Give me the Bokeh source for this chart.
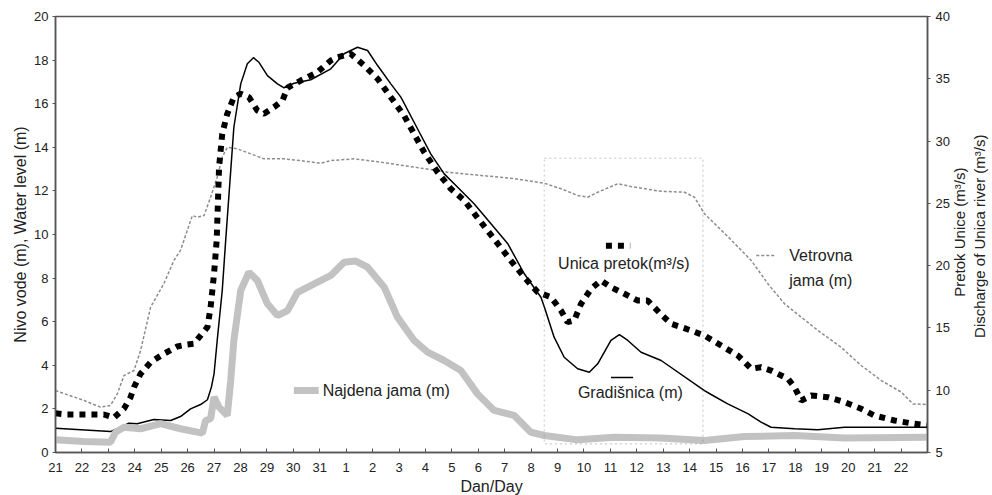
import math
from bokeh.plotting import figure
from bokeh.models import Range1d, LinearAxis, FixedTicker, BoxAnnotation
from bokeh.embed import file_html
from bokeh.resources import INLINE
from bokeh.core.properties import value

# x axis: days (21st .. 31st, then 1st .. 22nd of next month); positions are days since the 21st
day_labels = list(range(21, 32)) + list(range(1, 23))
tick_pos = list(range(len(day_labels)))

# Gradišnica (m) - water level, left axis
grad_t = [0.00, 2.08, 2.78, 3.09, 3.72, 4.36, 4.73, 5.11, 5.49, 5.75, 5.90, 6.00, 6.12, 6.31, 6.44,
          6.75, 7.01, 7.26, 7.49, 7.70, 8.02, 8.40, 8.65, 9.03, 9.66, 10.42, 10.92, 11.43, 11.81,
          12.19, 12.69, 13.07, 13.70, 14.20, 14.71, 15.22, 15.84, 16.48, 17.11, 17.74, 18.37, 18.50,
          18.87, 19.25, 19.76, 20.20, 20.52, 21.02, 21.34, 21.66, 22.16, 22.92, 24.56, 24.81, 25.44,
          26.20, 26.70, 27.08, 27.97, 28.85, 29.86, 31.12, 33.00]
grad_y = [1.11, 0.96, 1.34, 1.32, 1.51, 1.47, 1.65, 2.00, 2.20, 2.42, 3.00, 3.61, 5.14, 7.43, 9.72,
          14.92, 16.91, 17.83, 18.11, 17.90, 17.29, 16.91, 16.73, 16.94, 17.10, 17.60, 18.29, 18.59, 18.44,
          17.75, 16.91, 16.30, 14.85, 13.70, 12.78, 12.17, 11.41, 10.49, 9.59, 8.20, 7.12, 6.67,
          5.29, 4.37, 3.84, 3.68, 4.07, 5.14, 5.41, 5.14, 4.60, 4.22, 2.84, 2.66, 2.23,
          1.78, 1.39, 1.16, 1.09, 1.04, 1.16, 1.16, 1.16]

# Unica pretok (m3/s) - discharge, right axis
unica_t = [0.00, 0.44, 1.07, 1.83, 2.21, 2.59, 2.84, 2.97, 3.22, 3.60, 4.10, 4.61, 4.99, 5.24, 5.49,
           5.75, 5.87, 6.00, 6.10, 6.19, 6.31, 6.50, 6.75, 7.01, 7.32, 7.64, 7.89, 8.27, 8.59, 8.78,
           9.28, 9.91, 10.42, 10.67, 11.17, 11.68, 12.19, 12.69, 13.19, 13.57, 13.95, 14.46, 14.96,
           15.47, 16.10, 16.73, 17.23, 17.74, 18.25, 18.75, 19.13, 19.38, 19.63, 19.89, 20.27, 20.64,
           21.02, 21.53, 22.03, 22.41, 22.92, 23.30, 23.80, 24.56, 25.19, 25.82, 26.33, 26.70, 27.08,
           27.72, 27.97, 28.22, 28.60, 29.23, 29.86, 30.49, 30.99, 31.75, 32.51, 33.00]
unica_q = [8.15, 8.05, 8.05, 8.05, 7.79, 8.51, 9.44, 10.24, 11.32, 12.25, 12.92, 13.51, 13.67, 13.73, 14.39,
           15.06, 16.66, 19.35, 22.02, 27.90, 30.58, 32.19, 33.52, 33.80, 33.52, 32.45, 32.19, 32.72, 33.26, 34.28,
           34.86, 35.53, 36.47, 36.73, 37.01, 36.07, 35.00, 33.52, 32.05, 30.58, 29.11, 27.50, 26.17,
           25.23, 23.49, 21.78, 20.41, 19.07, 17.87, 17.47, 16.40, 15.46, 15.60, 16.94, 18.14, 18.81,
           18.27, 17.74, 17.20, 17.20, 16.08, 15.33, 14.98, 14.39, 13.59, 12.79, 11.72, 11.85, 11.58,
           10.92, 10.24, 9.17, 9.58, 9.44, 9.04, 8.51, 7.97, 7.57, 7.30, 7.17]

# Vetrovna jama (m) - left axis
vetr_t = [0.00, 1.07, 1.70, 2.08, 2.34, 2.59, 2.97, 3.22, 3.60, 4.10, 4.48, 4.73, 5.18, 5.37, 5.62,
          5.87, 6.12, 6.31, 6.50, 6.88, 7.39, 7.89, 8.65, 9.28, 10.04, 10.42, 11.30, 12.31, 13.57,
          14.84, 16.10, 17.36, 18.50, 19.13, 19.76, 20.14, 20.52, 21.28, 21.78, 22.92, 23.80, 24.18,
          24.56, 25.44, 26.33, 26.96, 27.59, 28.22, 28.85, 29.73, 30.49, 31.25, 32.01, 32.45, 33.00]
vetr_y = [2.84, 2.39, 2.08, 2.16, 2.69, 3.53, 3.76, 4.68, 6.67, 7.74, 8.81, 9.27, 10.87, 10.79, 10.87,
          11.71, 12.63, 13.55, 14.00, 13.93, 13.70, 13.47, 13.47, 13.39, 13.27, 13.39, 13.47, 13.32, 13.09,
          12.86, 12.71, 12.56, 12.35, 12.10, 11.79, 11.71, 11.94, 12.33, 12.20, 11.98, 11.94, 11.71,
          10.95, 9.91, 8.81, 7.74, 6.82, 6.21, 5.60, 4.83, 3.99, 3.30, 2.77, 2.23, 2.20]

# Najdena jama (m) - left axis
najd_t = [0.00, 1.07, 2.08, 2.27, 2.59, 3.22, 3.98, 4.73, 5.56, 5.68, 5.87, 6.00, 6.19, 6.50, 6.63,
          6.75, 7.01, 7.32, 7.64, 8.02, 8.40, 8.78, 9.16, 9.66, 10.42, 10.92, 11.36, 11.81, 12.44,
          12.94, 13.57, 14.08, 14.71, 15.34, 15.97, 16.60, 17.36, 17.99, 18.50, 19.76, 21.15, 22.92,
          24.56, 26.07, 27.97, 29.86, 33.00]
najd_y = [0.58, 0.50, 0.47, 0.93, 1.16, 1.09, 1.32, 1.09, 0.89, 1.47, 1.55, 2.54, 2.08, 1.70, 3.30,
          5.14, 7.43, 8.27, 7.89, 6.82, 6.28, 6.51, 7.35, 7.66, 8.12, 8.73, 8.78, 8.50, 7.58,
          6.21, 5.14, 4.60, 4.22, 3.76, 2.69, 1.93, 1.70, 0.93, 0.78, 0.58, 0.70, 0.67,
          0.55, 0.73, 0.78, 0.67, 0.70]

# right-side axis titles and the right-axis value at which each title starts
right_titles = ["Pretok Unice (m³/s)", "Discharge of Unica river (m³/s)"]
right_title_start = [17.5, 14.2]

FONT = "Liberation Sans"
AX = "#555555"
TXT = "#222222"

p = figure(frame_width=872, frame_height=436, output_backend="svg", toolbar_location=None,
           x_range=Range1d(0, 33), y_range=Range1d(0, 20),
           min_border_left=55, min_border_right=5, min_border_top=16, min_border_bottom=43)
p.extra_y_ranges = {"q": Range1d(5, 40)}
p.grid.visible = False
p.outline_line_color = AX
p.outline_line_width = 1.5
p.background_fill_color = "white"
p.border_fill_color = "white"

def style_axis(ax, tick_in=0, tick_out=4):
    ax.axis_line_color = AX
    ax.axis_line_width = 1.5
    ax.major_tick_line_color = AX
    ax.major_tick_in = tick_in
    ax.major_tick_out = tick_out
    ax.minor_tick_line_color = None
    ax.major_label_text_font = FONT
    ax.major_label_text_font_size = "13px"
    ax.major_label_text_color = TXT
    ax.axis_label_text_font = FONT
    ax.axis_label_text_font_size = "16px"
    ax.axis_label_text_font_style = "normal"
    ax.axis_label_text_color = TXT

xa = p.xaxis[0]
xa.ticker = FixedTicker(ticks=tick_pos)
xa.major_label_overrides = {i: str(d) for i, d in zip(tick_pos, day_labels)}
xa.axis_label = "Dan/Day"
style_axis(xa, tick_in=4, tick_out=0)
xa.major_label_standoff = 10
xa.axis_label_standoff = 3

ya = p.yaxis[0]
ya.ticker = FixedTicker(ticks=list(range(0, 21, 2)))
ya.axis_label = "Nivo vode (m), Water level (m)"
style_axis(ya, tick_in=0, tick_out=3)
ya.major_label_standoff = 4
ya.axis_label_standoff = 2

ra = LinearAxis(y_range_name="q", ticker=FixedTicker(ticks=list(range(5, 41, 5))))
style_axis(ra, tick_in=0, tick_out=3)
ra.major_label_standoff = 5
p.add_layout(ra, "right")

# titles on the right, drawn as single rotated tick labels so that they read bottom-to-top
for txt, start, standoff in zip(right_titles, right_title_start, [7, 0]):
    t_ax = LinearAxis(y_range_name="q", ticker=FixedTicker(ticks=[start]),
                      major_label_overrides={start: txt})
    style_axis(t_ax, tick_in=0, tick_out=0)
    t_ax.axis_line_color = None
    t_ax.major_tick_line_color = None
    t_ax.major_label_text_font_size = "15px"
    t_ax.major_label_orientation = math.pi / 2
    t_ax.major_label_standoff = standoff
    p.add_layout(t_ax, "right")

# dotted box
p.add_layout(BoxAnnotation(left=18.5, right=24.5, bottom=0.4, top=13.5, fill_alpha=0,
                           line_color="#777777", line_dash="2 3", line_width=1.5))

p.line(vetr_t, vetr_y, line_color="#8c8c8c", line_width=1.5, line_dash="3 2")
p.line(grad_t, grad_y, line_color="black", line_width=1.5)
p.line(unica_t, unica_q, y_range_name="q", line_color="black", line_width=6, line_dash="6 6")
p.line(najd_t, najd_y, line_color="#c2c2c2", line_width=7)

# legend-like annotations
TS = "16px"
p.line([9.02, 9.96], [2.84, 2.84], line_color="#c2c2c2", line_width=7)
p.text([10.11], [2.84], text=["Najdena jama (m)"], text_font=value(FONT), text_font_size=TS,
       text_baseline="middle", text_align="left", text_color=TXT)

p.line([20.83, 21.75], [21.6, 21.6], y_range_name="q", line_color="black", line_width=6, line_dash="6 6")
p.text([19.02], [8.67], text=["Unica pretok(m³/s)"], text_font=value(FONT), text_font_size=TS,
       text_baseline="middle", text_align="left", text_color=TXT)

p.line([21.02, 21.86], [3.44, 3.44], line_color="black", line_width=1.5)
p.text([19.77], [2.75], text=["Gradišnica (m)"], text_font=value(FONT), text_font_size=TS,
       text_baseline="middle", text_align="left", text_color=TXT)

p.line([26.52, 27.2], [9.04, 9.04], line_color="#8c8c8c", line_width=1.5, line_dash="3 2")
p.text([27.77], [9.04], text=["Vetrovna"], text_font=value(FONT), text_font_size=TS,
       text_baseline="middle", text_align="left", text_color=TXT)
p.text([27.77], [7.89], text=["jama (m)"], text_font=value(FONT), text_font_size=TS,
       text_baseline="middle", text_align="left", text_color=TXT)

open("out.html", "w").write(file_html(p, INLINE))
